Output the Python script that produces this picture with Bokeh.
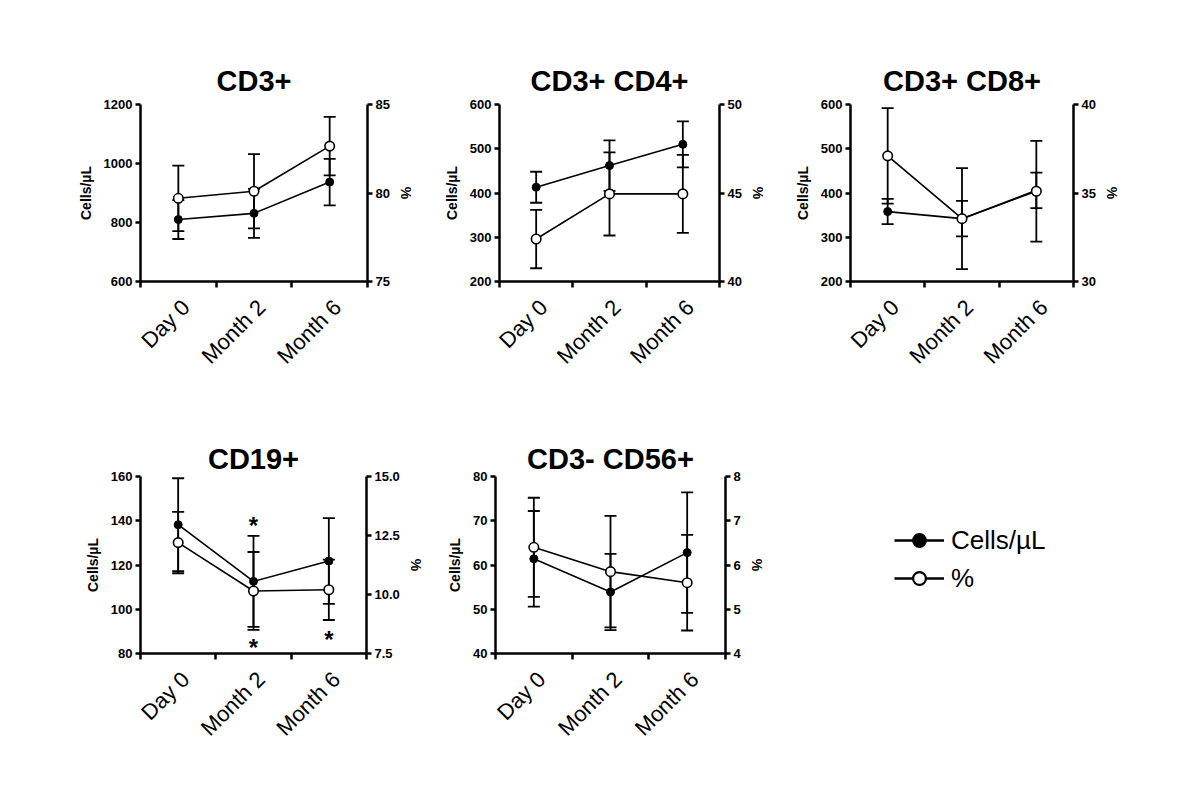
import math
from bokeh.plotting import figure
from bokeh.models import (Range1d, LinearAxis, FixedTicker, NumeralTickFormatter,
                          Legend, LegendItem)
from bokeh.layouts import row, column
from bokeh.embed import file_html
from bokeh.resources import INLINE
from bokeh.core.properties import value

# ---------------- data ----------------
categories = ["Day 0", "Month 2", "Month 6"]

cd3_cells = [810, 831, 937]
cd3_cells_err = [66, 83, 79]
cd3_pct = [79.7, 80.1, 82.65]
cd3_pct_err = [1.85, 2.1, 1.65]

cd4_cells = [413, 462, 510]
cd4_cells_err = [35, 57, 52]
cd4_pct = [42.4, 44.95, 44.95]
cd4_pct_err = [1.65, 2.35, 2.2]

cd8_cells = [358, 342, 406]
cd8_cells_err = [28.5, 40, 40]
cd8_pct = [37.1, 33.55, 35.1]
cd8_pct_err = [2.7, 2.85, 2.85]

cd19_cells = [138.2, 112.6, 121.8]
cd19_cells_err = [21, 20.6, 19.4]
cd19_pct = [12.2, 10.15, 10.2]
cd19_pct_err = [1.3, 1.65, 1.28]

cd56_cells = [61.4, 53.9, 62.8]
cd56_cells_err = [10.8, 8.6, 13.6]
cd56_pct = [6.4, 5.85, 5.6]
cd56_pct_err = [1.12, 1.26, 1.08]

cd19_star_cat = ["Month 2", "Month 2", "Month 6"]
cd19_star_y = [140.2, 84.8, 88.4]

FONT = "Liberation Sans"
xs = [i + 0.5 for i in range(len(categories))]
# category labels are anchored a little right of the centre, like the original
label_ticks = [x + 0.1 for x in xs]


def style_axis(ax, ticks, label_standoff):
    ax.ticker = FixedTicker(ticks=ticks)
    ax.axis_line_width = 2.5
    ax.axis_line_color = "black"
    ax.major_tick_line_width = 2.5
    ax.major_tick_line_color = "black"
    ax.major_tick_out = 5
    ax.major_tick_in = 0
    ax.minor_tick_line_color = None
    ax.major_label_text_font = FONT
    ax.major_label_text_font_style = "bold"
    ax.major_label_text_font_size = "13px"
    ax.major_label_text_color = "black"
    ax.major_label_standoff = 3
    ax.axis_label_text_font = FONT
    ax.axis_label_text_font_style = "bold"
    ax.axis_label_text_font_size = "14px"
    ax.axis_label_text_color = "black"
    ax.axis_label_standoff = label_standoff


def draw_series(p, vals, errs, y_range_name="default"):
    lo = [v - e for v, e in zip(vals, errs)]
    hi = [v + e for v, e in zip(vals, errs)]
    p.segment(x0=xs, y0=lo, x1=xs, y1=hi, line_color="black", line_width=1.8,
              y_range_name=y_range_name)
    p.scatter(x=xs, y=hi, marker="dash", size=12, line_color="black", line_width=1.8,
              y_range_name=y_range_name)
    p.scatter(x=xs, y=lo, marker="dash", size=12, line_color="black", line_width=1.8,
              y_range_name=y_range_name)
    p.line(x=xs, y=vals, line_color="black", line_width=1.6, y_range_name=y_range_name)


def panel(title, cells, cells_err, pct, pct_err, yl, lt, yr, rt, width, height,
          bl, br, bt, bb, title_standoff, rfmt=None):
    p = figure(width=width, height=height, x_range=Range1d(0, 3), y_range=Range1d(*yl),
               output_backend="svg", toolbar_location=None,
               min_border_left=bl, min_border_right=br, min_border_top=bt,
               min_border_bottom=bb)
    p.extra_y_ranges = {"pct": Range1d(*yr)}
    p.outline_line_color = None
    p.grid.visible = False
    p.background_fill_color = "white"
    p.border_fill_color = "white"

    p.title.text = title
    p.title.align = "center"
    p.title.text_font = FONT
    p.title.text_font_size = "29px"
    p.title.text_font_style = "bold"
    p.title.text_color = "black"
    p.title.standoff = title_standoff

    # x axis: labels near the category centres, ticks at the boundaries
    xa = p.xaxis[0]
    xa.ticker = FixedTicker(ticks=label_ticks, minor_ticks=[0, 1, 2, 3])
    xa.major_label_overrides = {x: c for x, c in zip(label_ticks, categories)}
    xa.axis_line_width = 2.5
    xa.axis_line_color = "black"
    xa.major_tick_line_color = None
    xa.major_tick_out = 6
    xa.major_tick_in = 0
    xa.minor_tick_line_color = "black"
    xa.minor_tick_line_width = 2.5
    xa.minor_tick_out = 6
    xa.minor_tick_in = 0
    xa.major_label_orientation = math.pi / 4
    xa.major_label_text_font = FONT
    xa.major_label_text_font_size = "22px"
    xa.major_label_text_color = "black"
    xa.major_label_standoff = 16

    ya = p.yaxis[0]
    style_axis(ya, lt, 7)
    ya.axis_label = "Cells/µL"

    ra = LinearAxis(y_range_name="pct")
    style_axis(ra, rt, 5)
    ra.axis_label = "%"
    if rfmt:
        ra.formatter = NumeralTickFormatter(format=rfmt)
    p.add_layout(ra, "right")

    draw_series(p, cells, cells_err)
    draw_series(p, pct, pct_err, "pct")
    p.scatter(x=xs, y=cells, size=8, fill_color="black", line_color="black")
    p.scatter(x=xs, y=pct, size=9.5, fill_color="white", line_color="black",
              line_width=1.6, y_range_name="pct")
    return p


# row 1: height 420, frames from y=104 to y=281
p1 = panel("CD3+", cd3_cells, cd3_cells_err, cd3_pct, cd3_pct_err,
           (600, 1200), [600, 800, 1000, 1200], (75, 85), [75, 80, 85],
           420, 420, 140, 53, 104, 139, 16)
p2 = panel("CD3+ CD4+", cd4_cells, cd4_cells_err, cd4_pct, cd4_pct_err,
           (200, 600), [200, 300, 400, 500, 600], (40, 50), [40, 45, 50],
           360, 420, 79, 61, 104, 139, 16)
p3 = panel("CD3+ CD8+", cd8_cells, cd8_cells_err, cd8_pct, cd8_pct_err,
           (200, 600), [200, 300, 400, 500, 600], (30, 40), [30, 35, 40],
           400, 420, 70, 107, 104, 139, 16)
# row 2: height 370, frames from y=476 to y=653
p4 = panel("CD19+", cd19_cells, cd19_cells_err, cd19_pct, cd19_pct_err,
           (80, 160), [80, 100, 120, 140, 160], (7.5, 15), [7.5, 10, 12.5, 15],
           430, 370, 140, 64, 56, 137, 4, rfmt="0.0")
p5 = panel("CD3- CD56+", cd56_cells, cd56_cells_err, cd56_pct, cd56_pct_err,
           (40, 80), [40, 50, 60, 70, 80], (4, 8), [4, 5, 6, 7, 8],
           350, 370, 65, 55, 56, 137, 4)

# significance asterisks on CD19+
star_x = [xs[categories.index(c)] for c in cd19_star_cat]
p4.text(x=star_x, y=cd19_star_y, text=["*"] * len(star_x), text_align="center",
        text_baseline="middle", text_font=value(FONT), text_font_style="bold",
        text_font_size="24px", text_color="black", y_offset=5)

# legend panel (its renderers hold a point outside the visible range, only the
# legend swatches are drawn)
lg = figure(width=400, height=370, x_axis_type=None, y_axis_type=None,
            x_range=Range1d(0, 1), y_range=Range1d(0, 1),
            output_backend="svg", toolbar_location=None,
            min_border_left=70, min_border_right=107, min_border_top=56,
            min_border_bottom=137)
lg.outline_line_color = None
lg.grid.visible = False
off = [5, 6]
r1 = lg.line(x=off, y=off, line_color="black", line_width=2.5)
r2 = lg.scatter(x=off, y=off, fill_color="black", line_color="black", line_width=2)
r3 = lg.line(x=off, y=off, line_color="black", line_width=2.5)
r4 = lg.scatter(x=off, y=off, fill_color="white", line_color="black", line_width=2.2)
legend = Legend(items=[LegendItem(label="Cells/µL", renderers=[r1, r2]),
                       LegendItem(label="%", renderers=[r3, r4])],
                location=(44, 59), glyph_width=50, glyph_height=32,
                label_height=32, spacing=6, padding=10, label_standoff=7,
                border_line_color=None, background_fill_alpha=0,
                label_text_font=FONT, label_text_font_size="26px",
                label_text_color="black")
lg.add_layout(legend)

layout = column(row(p1, p2, p3), row(p4, p5, lg))

with open("out.html", "w") as f:
    f.write(file_html(layout, INLINE))
